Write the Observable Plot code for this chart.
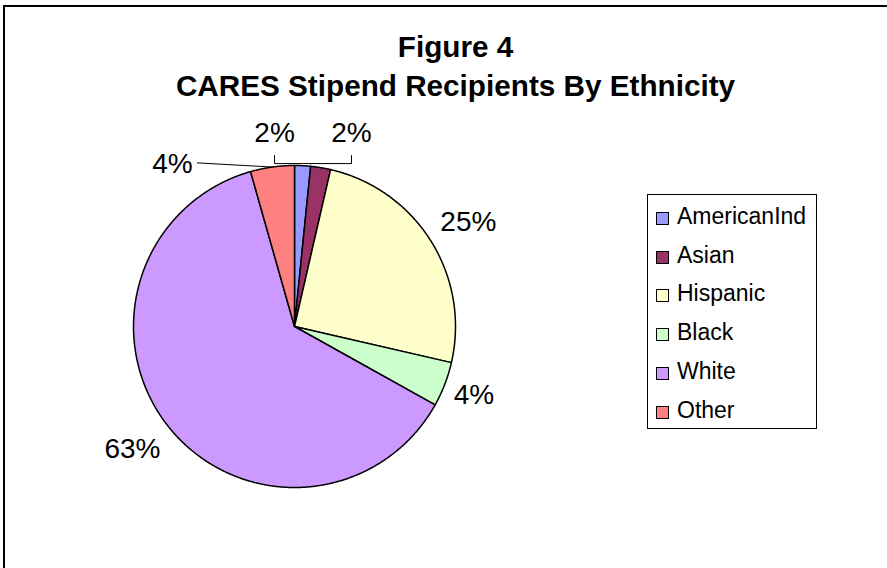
<!DOCTYPE html>
<html><head><meta charset="utf-8">
<script src="https://cdn.jsdelivr.net/npm/d3@7"></script>
<script src="https://cdn.jsdelivr.net/npm/@observablehq/plot@0.6"></script>
<style>
html,body{margin:0;padding:0;background:#fff;}
#wrap{position:relative;width:887px;height:568px;overflow:hidden;font-family:"Liberation Sans",Arial,Helvetica,sans-serif;color:#000;}
#frame{position:absolute;left:3px;top:5px;width:1000px;height:1000px;border:2px solid #000;box-sizing:border-box;}
#chart{position:absolute;left:0;top:0;}
#title{position:absolute;left:0;width:911px;top:27px;text-align:center;font-weight:bold;font-size:29.7px;line-height:39px;}
#legend{position:absolute;left:647px;top:194px;width:170px;height:235px;border:1px solid #000;box-sizing:border-box;background:#fff;padding-top:2px;}
.row{display:flex;align-items:center;height:38.8px;font-size:23px;white-space:nowrap;}
.sw{width:13px;height:13px;border:1.3px solid #000;box-sizing:border-box;margin-left:8px;margin-right:8px;margin-top:4px;flex:none;}
</style></head><body>
<div id="wrap"><div id="frame"></div><div id="chart"></div><div id="title">Figure 4<br>CARES Stipend Recipients By Ethnicity</div><div id="legend"></div></div>
<script>
// ---- data ----
const categories = ["AmericanInd", "Asian", "Hispanic", "Black", "White", "Other"];
const shares = [1.6, 2.0, 25.0, 4.5, 62.5, 4.4];
const labels = ["2%", "2%", "25%", "4%", "63%", "4%"];
const colors = ["#9999FF", "#993366", "#FFFFCC", "#CCFFCC", "#CC99FF", "#FF8080"];

// ---- layout ----
const W = 887, H = 568, CX = 294, CY = 326, R = 161;
// label placement (angle in degrees clockwise from 12 o'clock, radius in pie radii)
const labelLayout = {
  AmericanInd: {angle: -5.9, r: 1.205, leader: "elbow"},
  Asian: {angle: 16.45, r: 1.25, leader: "elbow"},
  Hispanic: {angle: 59.0, r: 1.26},
  Black: {angle: 111.0, r: 1.194},
  White: {angle: 233.0, r: 1.26},
  Other: {angle: -36.9, r: 1.263, leader: "side"}
};

const arcs = d3.pie().sort(null).value(d => d)(shares);
const slicePts = [];
arcs.forEach((p, i) => {
  const cat = categories[i];
  const n = Math.max(2, Math.ceil((p.endAngle - p.startAngle) / 0.005));
  slicePts.push({cat, x: 0, y: 0});
  for (let k = 0; k <= n; k++) {
    const a = p.startAngle + (p.endAngle - p.startAngle) * k / n;
    slicePts.push({cat, x: Math.sin(a), y: Math.cos(a)});
  }
  slicePts.push({cat, x: 0, y: 0});
});

const labelPts = arcs.map((p, i) => {
  const L = labelLayout[categories[i]];
  const a = L.angle * Math.PI / 180;
  return {cat: categories[i], text: labels[i], x: L.r * Math.sin(a), y: L.r * Math.cos(a), mid: (p.startAngle + p.endAngle) / 2, leader: L.leader};
});

// the two elbow leaders meet at the boundary between the two small top slices
const meetX = Math.sin(arcs[0].endAngle);
const leaderPts = [];
labelPts.forEach(l => {
  if (!l.leader) return;
  if (l.leader === "elbow") {
    leaderPts.push({cat: l.cat, x: l.x, y: l.y - 22 / R});
    leaderPts.push({cat: l.cat, x: l.x, y: 1.012});
    leaderPts.push({cat: l.cat, x: meetX, y: 1.012});
  } else {
    leaderPts.push({cat: l.cat, x: l.x + 25 / R, y: l.y + 1 / R});
    leaderPts.push({cat: l.cat, x: Math.sin(l.mid), y: Math.cos(l.mid)});
  }
});

const chart = Plot.plot({
  width: W, height: H, margin: 0,
  x: {domain: [-CX / R, (W - CX) / R], range: [0, W], axis: null},
  y: {domain: [-(H - CY) / R, CY / R], range: [H, 0], axis: null},
  color: {domain: categories, range: colors},
  style: {background: "transparent", fontFamily: "'Liberation Sans', Arial, sans-serif", overflow: "visible"},
  marks: [
    Plot.line(slicePts, {x: "x", y: "y", z: "cat", fill: "cat", stroke: "#000", strokeWidth: 1.5, strokeLinejoin: "round"}),
    Plot.line(leaderPts, {x: "x", y: "y", z: "cat", stroke: "#000", strokeWidth: 1}),
    Plot.text(labelPts, {x: "x", y: "y", text: "text", fontSize: 28, fill: "#000", textAnchor: "middle"})
  ]
});
document.getElementById("chart").appendChild(chart);

const legend = document.getElementById("legend");
categories.forEach((c, i) => {
  const row = document.createElement("div");
  row.className = "row";
  const sw = document.createElement("div");
  sw.className = "sw";
  sw.style.background = colors[i];
  const t = document.createElement("span");
  t.textContent = c;
  row.appendChild(sw);
  row.appendChild(t);
  legend.appendChild(row);
});
</script>
</body></html>
